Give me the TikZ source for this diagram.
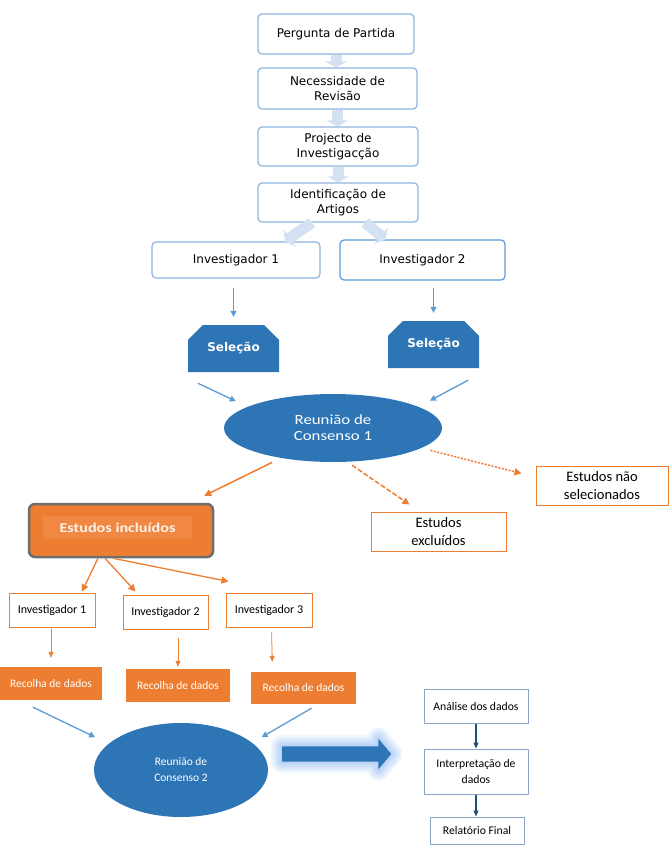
\documentclass[tikz,border=0pt]{standalone}
\usepackage{fontspec}
\setmainfont{Carlito}
\newfontfamily\topfont{DejaVu Sans}
\newfontfamily\widefont[FakeStretch=1.2]{Carlito}
\usepackage{tikz}
\usetikzlibrary{arrows.meta,positioning,shapes.geometric,shapes.misc,shapes.arrows}
\definecolor{mBlue}{HTML}{2E75B6}
\definecolor{mLineBlue}{HTML}{5B9BD5}
\definecolor{mPaleLine}{HTML}{8DB3E2}
\definecolor{mPale}{HTML}{D3E1F3}
\definecolor{mOrange}{HTML}{ED7D31}
\definecolor{mOrangeLt}{HTML}{F08843}
\definecolor{mGrey}{HTML}{6E6E6E}
\definecolor{mSlate}{HTML}{8AA5C6}
\definecolor{mNavy}{HTML}{1F4E79}
\definecolor{mGlow}{HTML}{7FB0F0}

\begin{document}
\begin{tikzpicture}[x=1pt, y=-1pt,
        topbox/.style={draw=mPaleLine, line width=1.2pt, rounded corners=4pt, align=center,
                       inner sep=0pt, font=\topfont\fontsize{12}{15}\selectfont},
        selbox/.style={chamfered rectangle, chamfered rectangle corners={north west,north east},
                       chamfered rectangle xsep=9pt, chamfered rectangle ysep=9pt, fill=mBlue,
                       inner sep=0pt, text=white, font=\topfont\bfseries\fontsize{12}{14}\selectfont},
        meet/.style={ellipse, fill=mBlue, inner sep=0pt, align=center, text=white,
                     font=\fontsize{11.5}{16}\selectfont},
        obox/.style={draw=mOrange, line width=1pt, align=center, inner sep=0pt,
                     font=\fontsize{12}{15}\selectfont},
        ofill/.style={fill=mOrange, inner sep=0pt, text=white, font=\fontsize{11.5}{14}\selectfont},
        sbox/.style={draw=mSlate, line width=1pt, align=center, inner sep=0pt,
                     font=\fontsize{11.7}{16}\selectfont},
        palearr/.style={draw=mPale, line width=11pt, -{Triangle[length=6pt, width=22pt]}},
        barr/.style={-{Triangle[length=6pt, width=6pt]}, line width=1.3pt, mLineBlue},
        oarr/.style={-{Triangle[length=7pt, width=7pt]}, line width=1.5pt, mOrange},
        othin/.style={-{Triangle[length=6pt, width=5pt]}, line width=0.8pt, mOrange},
        narr/.style={-{Triangle[length=6pt, width=5pt]}, line width=1.1pt, mNavy},
        glow/.style={preaction={draw=mGlow, line width=#1, opacity=0.14, line join=round}},
    ]
        \useasboundingbox (0,0) rectangle (669,847);

        % top chain
        \node[topbox, minimum width=156pt, minimum height=40pt] (p1) at (336,34) {Pergunta de Partida};
        \node[topbox, minimum width=159pt, minimum height=41pt] (p2) at (337.5,88.5) {Necessidade de\\Revisão};
        \node[topbox, minimum width=160pt, minimum height=39pt] (p3) at (338,146.5) {Projecto de\\Investigacção};
        \node[topbox, minimum width=160pt, minimum height=39pt] (p4) at (338,202.5) {Identificação de\\Artigos};
        \node[topbox, minimum width=168pt, minimum height=36pt] (i1) at (236,260) {Investigador 1};
        \node[topbox, draw=mLineBlue, minimum width=165pt, minimum height=40pt] (i2) at (422.5,260) {Investigador 2};

        \draw[palearr] (p1.south) -- (p1.south |- p2.north);
        \draw[palearr] (p2.south) -- (p2.south |- p3.north);
        \draw[palearr] (p3.south) -- (p3.south |- p4.north);
        \draw[palearr] ([xshift=-26pt]p4.south) -- ([xshift=49pt]i1.north);
        \draw[palearr] ([xshift=27pt]p4.south) -- ([xshift=-37pt]i2.north);

        % selection
        \node[selbox, minimum width=91pt, minimum height=47pt] (s1) at (233.5,348.5) {Seleção};
        \node[selbox, minimum width=91pt, minimum height=47pt] (s2) at (433.5,344.5) {Seleção};
        \draw[barr, shorten <=9pt, shorten >=8pt] (i1.south -| s1) -- (s1.north);
        \draw[barr, shorten <=7pt, shorten >=8pt] (i2.south -| s2) -- (s2.north);

        % consensus 1
        \node[meet, minimum width=218pt, minimum height=68pt, font=\widefont\fontsize{14}{16}\selectfont] (rc1) at (333,428) {Reunião de\\Consenso 1};
        \draw[barr, shorten >=13pt] ([shift={(10,11)}]s1.south west) -- (rc1.166);
        \draw[barr, shorten >=13pt] ([shift={(-11,12)}]s2.south east) -- (rc1.14);

        \node[obox, minimum width=132pt, minimum height=39pt, font=\fontsize{14.5}{18}\selectfont] (nsel) at (602,485.5) {Estudos não\\selecionados};
        \node[obox, minimum width=135pt, minimum height=39pt, font=\fontsize{14.5}{18}\selectfont] (exc) at (438.5,531.5) {Estudos\\excluídos};
        \node[fill=mOrange, draw=mGrey, line width=2.5pt, rounded corners=6pt,
              minimum width=184pt, minimum height=53pt] (inc) at (121,530.5) {};
        \node[fill=mOrangeLt, inner sep=0pt, minimum width=149pt, minimum height=23pt,
              text=white!90!mOrange, font=\widefont\bfseries\fontsize{13.5}{15}\selectfont] (incin) at (117.5,527.5) {Estudos incluídos};

        \draw[oarr] ([shift={(0,6)}]rc1.205) -- ([shift={(-10,-7)}]inc.north east);
        \draw[oarr, dashed, dash pattern=on 5pt off 2pt] ([shift={(19,3)}]rc1.south) -- ([shift={(39,-7)}]exc.north west);
        \draw[oarr, dash pattern=on 2pt off 1.5pt] ([shift={(0,7)}]rc1.-9) -- ([shift={(-14,8)}]nsel.north west);

        % investigators
        \node[obox, minimum width=86pt, minimum height=34pt] (j1) at (52,610) {Investigador 1};
        \node[obox, minimum width=85pt, minimum height=34pt] (j2) at (165.5,612) {Investigador 2};
        \node[obox, minimum width=86pt, minimum height=34pt] (j3) at (269,610) {Investigador 3};
        \draw[oarr, line width=1.3pt] ([xshift=-23pt]inc.south) -- ([shift={(30,-1)}]j1.north);
        \draw[oarr, line width=1.3pt] ([xshift=-16pt]inc.south) -- ([shift={(-30,-3)}]j2.north);
        \draw[oarr, line width=1.3pt] ([xshift=-8pt]inc.south) -- ([shift={(3,-11)}]j3.north west);

        \node[ofill, minimum width=102pt, minimum height=33pt] (r1) at (51,683.5) {Recolha de dados};
        \node[ofill, minimum width=104pt, minimum height=33pt] (r2) at (178,685.5) {Recolha de dados};
        \node[ofill, minimum width=105pt, minimum height=32pt] (r3) at (303.5,688) {Recolha de dados};
        \draw[othin, shorten <=1pt, shorten >=9pt] (j1.south -| r1) -- (r1.north);
        \draw[othin, shorten <=8pt, shorten >=2pt] (j2.south -| r2.north) -- (r2.north);
        \draw[othin, shorten <=5pt, shorten >=10pt] ([xshift=-32pt]j3.south -| r3.north) -- ([xshift=-31pt]r3.north);

        % consensus 2
        \node[meet, minimum width=174pt, minimum height=94pt] (rc2) at (181,770) {Reunião de\\Consenso 2};
        \draw[barr, shorten >=15pt] ([shift={(-18,7)}]r1.south) -- (rc2.160);
        \draw[barr, shorten >=11pt] ([shift={(8,4)}]r3.south) -- (rc2.21);

        \node[single arrow, single arrow head extend=7.5pt, single arrow tip angle=100,
              minimum height=109pt, inner xsep=0pt, inner ysep=7.5pt, fill=mBlue,
              glow=22pt, glow=17pt, glow=12pt, glow=8pt, glow=4pt] (go) at (333.5,754) {};

        % final steps
        \node[sbox, minimum width=104pt, minimum height=34pt] (an) at (476,706) {Análise dos dados};
        \node[sbox, minimum width=104pt, minimum height=45pt] (ip) at (476,771.5) {Interpretação de\\dados};
        \node[sbox, minimum width=94pt, minimum height=27pt] (rf) at (477,830.5) {Relatório Final};
        \draw[narr] (an.south) -- (an.south |- ip.north);
        \draw[narr] (ip.south) -- (ip.south |- rf.north);
    \end{tikzpicture}
\end{document}
